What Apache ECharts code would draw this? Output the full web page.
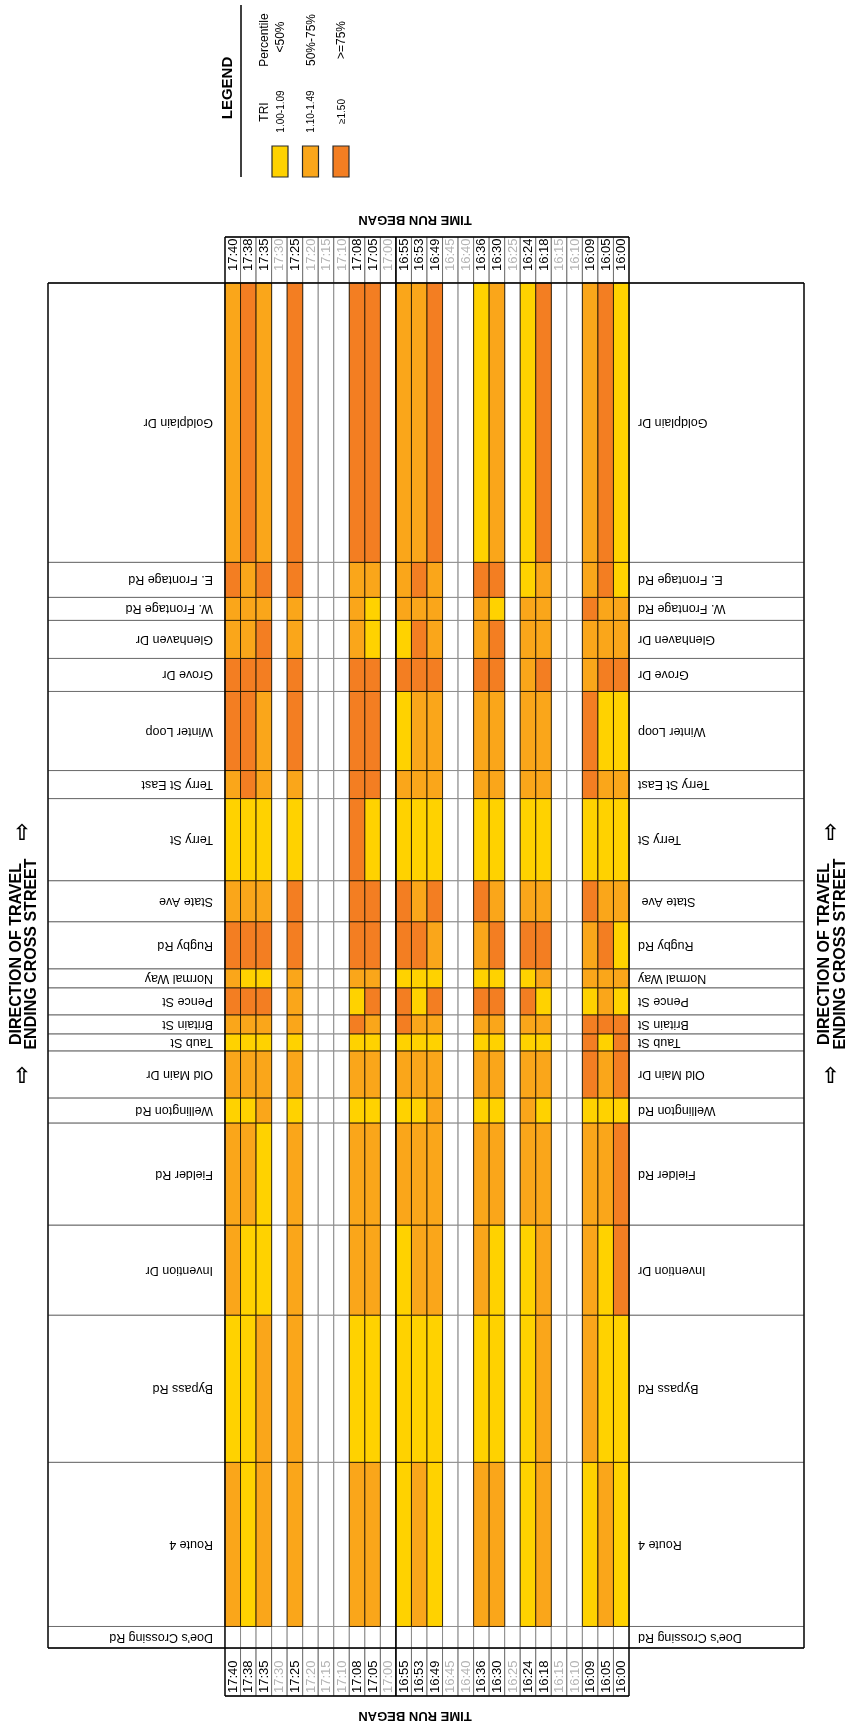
<!DOCTYPE html>
<html>
<head>
<meta charset="utf-8">
<script src="https://cdn.jsdelivr.net/npm/echarts@6/dist/echarts.min.js"></script>
<style>
  html, body { margin: 0; padding: 0; background: #fff; }
  #chart { width: 849px; height: 1725px; }
</style>
</head>
<body>
<div id="chart"></div>
<script>
// time each run began (left -> right), grey ones had no run
const times = ['17:40', '17:38', '17:35', '17:30', '17:25', '17:20', '17:15', '17:10', '17:08', '17:05', '17:00',
  '16:55', '16:53', '16:49', '16:45', '16:40', '16:36', '16:30', '16:25', '16:24', '16:18', '16:15', '16:10',
  '16:09', '16:05', '16:00'];
const runTimes = ['17:40', '17:38', '17:35', '17:25', '17:08', '17:05', '16:55', '16:53', '16:49',
  '16:36', '16:30', '16:24', '16:18', '16:09', '16:05', '16:00'];

// cross streets in direction of travel (bottom -> top)
const streets = ["Doe's Crossing Rd", 'Route 4', 'Bypass Rd', 'Invention Dr', 'Fielder Rd', 'Wellington Rd',
  'Old Main Dr', 'Taub St', 'Britain St', 'Pence St', 'Normal Way', 'Rugby Rd', 'State Ave ', 'Terry St',
  'Terry St East', 'Winter Loop', 'Grove Dr', 'Glenhaven Dr', 'W. Frontage Rd', 'E. Frontage Rd', 'Goldplain Dr'];
// segment length ending at each street (first one is the start point)
const segLen = [0, 1.64, 1.47, 0.90, 1.02, 0.25, 0.47, 0.17, 0.19, 0.27, 0.19, 0.47, 0.41, 0.82,
  0.28, 0.79, 0.33, 0.38, 0.23, 0.35, 2.79];

// TRI class per segment and run: 1 = 1.00-1.09, 2 = 1.10-1.49, 3 = >=1.50
const triLevel = [
  [2, 1, 2, 2, 2, 2, 1, 2, 1, 2, 2, 1, 2, 1, 2, 1], // Route 4
  [1, 1, 2, 2, 1, 1, 1, 1, 1, 1, 1, 1, 2, 2, 1, 1], // Bypass Rd
  [2, 1, 1, 2, 2, 2, 1, 2, 2, 2, 1, 1, 2, 2, 1, 3], // Invention Dr
  [2, 2, 1, 2, 2, 2, 2, 2, 2, 2, 2, 2, 2, 2, 2, 3], // Fielder Rd
  [1, 1, 2, 1, 1, 1, 1, 1, 2, 1, 1, 2, 1, 1, 1, 1], // Wellington Rd
  [2, 2, 2, 2, 2, 2, 2, 2, 2, 2, 2, 2, 2, 3, 2, 3], // Old Main Dr
  [1, 1, 1, 1, 1, 1, 1, 1, 1, 1, 1, 1, 1, 3, 1, 3], // Taub St
  [2, 2, 2, 2, 3, 2, 3, 2, 2, 2, 2, 2, 2, 3, 3, 3], // Britain St
  [3, 3, 3, 2, 1, 3, 3, 1, 3, 3, 3, 3, 1, 1, 2, 1], // Pence St
  [2, 1, 1, 2, 2, 2, 1, 1, 1, 1, 1, 1, 2, 2, 2, 2], // Normal Way
  [3, 3, 3, 3, 3, 3, 3, 3, 2, 2, 3, 3, 3, 2, 3, 1], // Rugby Rd
  [2, 2, 2, 3, 3, 3, 3, 2, 3, 3, 2, 2, 2, 3, 2, 2], // State Ave
  [1, 1, 1, 1, 3, 1, 1, 1, 1, 1, 1, 1, 1, 1, 1, 1], // Terry St
  [2, 3, 2, 2, 3, 3, 2, 2, 2, 2, 2, 2, 2, 3, 2, 2], // Terry St East
  [3, 3, 2, 3, 3, 3, 1, 2, 2, 2, 2, 2, 2, 3, 1, 1], // Winter Loop
  [3, 3, 3, 3, 3, 3, 3, 3, 3, 3, 3, 2, 3, 2, 3, 3], // Grove Dr
  [2, 2, 3, 2, 2, 1, 1, 3, 2, 2, 3, 2, 2, 2, 2, 2], // Glenhaven Dr
  [2, 2, 2, 2, 2, 1, 2, 2, 2, 2, 1, 2, 2, 3, 2, 2], // W. Frontage Rd
  [3, 2, 3, 3, 2, 2, 2, 3, 2, 3, 3, 1, 2, 2, 3, 1], // E. Frontage Rd
  [2, 3, 2, 3, 3, 3, 2, 2, 3, 1, 2, 1, 3, 2, 3, 1]  // Goldplain Dr
];

const triColors = ['#FFD200', '#FAA61A', '#F37E22'];
const legendTri = ['1.00-1.09', '1.10-1.49', '\u22651.50'];
const legendPct = ['<50%', '50%-75%', '>=75%'];

const FONT = "'Liberation Sans', Arial, sans-serif";
const DOE_ROW = 0.215; // room for the starting street row

// row extents on the value axis
const yBot = [], yTop = [];
let acc = 0;
streets.forEach(function (s, k) {
  if (k === 0) { yBot.push(-DOE_ROW); yTop.push(0); }
  else { yBot.push(acc); acc += segLen[k]; yTop.push(acc); }
});
const total = acc;

const whiteCells = [], colorCells = [];
streets.forEach(function (s, k) {
  times.forEach(function (t, i) {
    const r = runTimes.indexOf(t);
    const lv = (k > 0 && r >= 0) ? triLevel[k - 1][r] : 0;
    (lv ? colorCells : whiteCells).push([i, yBot[k], yTop[k], lv]);
  });
});

const chart = echarts.init(document.getElementById('chart'));

function renderCell(params, api) {
  const p0 = api.coord([api.value(0), api.value(2)]);
  const p1 = api.coord([api.value(0) + 1, api.value(1)]);
  const lv = api.value(3);
  return {
    type: 'rect',
    shape: { x: p0[0], y: p0[1], width: p1[0] - p0[0], height: p1[1] - p0[1] },
    style: {
      fill: lv ? triColors[lv - 1] : '#fff',
      stroke: lv ? 'rgba(30,20,0,0.85)' : '#8c8c8c',
      lineWidth: 1
    }
  };
}

function renderStreet(params, api) {
  const k = api.value(2);
  const p0 = api.coord([0, api.value(1)]);
  const p1 = api.coord([times.length, api.value(0)]);
  const cy = (p0[1] + p1[1]) / 2;
  const h = p1[1] - p0[1];
  const txt = { fontSize: 12.5, fontFamily: FONT, fill: '#000', verticalAlign: 'middle' };
  return {
    type: 'group',
    children: [
      { type: 'rect', shape: { x: 48, y: p0[1], width: p0[0] - 48, height: h },
        style: { fill: '#fff', stroke: '#6e6e6e', lineWidth: 1 } },
      { type: 'rect', shape: { x: p1[0], y: p0[1], width: 804 - p1[0], height: h },
        style: { fill: '#fff', stroke: '#6e6e6e', lineWidth: 1 } },
      { type: 'text', x: p0[0] - 12, y: cy, rotation: Math.PI,
        style: Object.assign({ text: streets[k], align: 'left' }, txt) },
      { type: 'text', x: p1[0] + 9, y: cy, rotation: Math.PI,
        style: Object.assign({ text: streets[k], align: 'right' }, txt) }
    ]
  };
}

function renderHeader(params, api) {
  const i = api.value(0);
  const t = times[i];
  const run = runTimes.indexOf(t) >= 0;
  const a = api.coord([i, total]);
  const b = api.coord([i + 1, -DOE_ROW]);
  const w = b[0] - a[0];
  const cx = (a[0] + b[0]) / 2;
  const txt = { text: t, fontSize: 13, fontFamily: FONT, fill: run ? '#000' : '#b4b4b4', verticalAlign: 'middle' };
  return {
    type: 'group',
    children: [
      { type: 'rect', shape: { x: a[0], y: a[1] - 46, width: w, height: 46 },
        style: { fill: '#fff', stroke: '#707070', lineWidth: 1 } },
      { type: 'rect', shape: { x: a[0], y: b[1], width: w, height: 48 },
        style: { fill: '#fff', stroke: '#707070', lineWidth: 1 } },
      { type: 'text', x: cx + 0.5, y: a[1] - 44.5, rotation: Math.PI / 2,
        style: Object.assign({ align: 'right' }, txt) },
      { type: 'text', x: cx + 0.5, y: b[1] + 45, rotation: Math.PI / 2,
        style: Object.assign({ align: 'left' }, txt) }
    ]
  };
}

function renderFrame(params, api) {
  const tl = api.coord([0, total]);
  const br = api.coord([times.length, -DOE_ROW]);
  const sep = api.coord([11, 0])[0];
  const top = tl[1] - 46, bot = br[1] + 48;
  const dark = { stroke: '#000', lineWidth: 1.3 };
  function line(x1, y1, x2, y2, st) {
    return { type: 'line', shape: { x1: x1, y1: y1, x2: x2, y2: y2 }, style: st || dark };
  }
  return {
    type: 'group',
    children: [
      line(tl[0], top, tl[0], bot),
      line(br[0], top, br[0], bot),
      line(sep, top, sep, bot, { stroke: '#000', lineWidth: 1.6 }),
      line(tl[0], top, br[0], top),
      line(tl[0], bot, br[0], bot),
      line(48, tl[1], 804, tl[1]),
      line(48, br[1], 804, br[1]),
      line(48, tl[1], 48, br[1]),
      line(804, tl[1], 804, br[1])
    ]
  };
}

const graphics = [
  { type: 'text', x: 415, y: 219.5, rotation: Math.PI,
    style: { text: 'TIME RUN BEGAN', fontSize: 13, fontWeight: 'bold', fontFamily: FONT, fill: '#000', align: 'center', verticalAlign: 'middle' } },
  { type: 'text', x: 415, y: 1716, rotation: Math.PI,
    style: { text: 'TIME RUN BEGAN', fontSize: 13, fontWeight: 'bold', fontFamily: FONT, fill: '#000', align: 'center', verticalAlign: 'middle' } },
  { type: 'text', x: 24, y: 954, rotation: Math.PI / 2,
    style: { text: 'DIRECTION OF TRAVEL\nENDING CROSS STREET', fontSize: 16, lineHeight: 15.5, fontWeight: 'bold', fontFamily: FONT, fill: '#000', align: 'center', verticalAlign: 'middle' } },
  { type: 'text', x: 832.5, y: 954, rotation: Math.PI / 2,
    style: { text: 'DIRECTION OF TRAVEL\nENDING CROSS STREET', fontSize: 16, lineHeight: 15.5, fontWeight: 'bold', fontFamily: FONT, fill: '#000', align: 'center', verticalAlign: 'middle' } },
  // legend
  { type: 'text', x: 228, y: 88, rotation: Math.PI / 2,
    style: { text: 'LEGEND', fontSize: 15, fontWeight: 'bold', fontFamily: FONT, fill: '#000', align: 'center', verticalAlign: 'middle' } },
  { type: 'line', shape: { x1: 241, y1: 5, x2: 241, y2: 177 }, style: { stroke: '#000', lineWidth: 1.5 } },
  { type: 'text', x: 265, y: 112, rotation: Math.PI / 2,
    style: { text: 'TRI', fontSize: 12, fontFamily: FONT, fill: '#000', align: 'center', verticalAlign: 'middle' } },
  { type: 'text', x: 265, y: 40, rotation: Math.PI / 2,
    style: { text: 'Percentile', fontSize: 12, fontFamily: FONT, fill: '#000', align: 'center', verticalAlign: 'middle' } }
];
[[22, 834], [22, 1077], [830.5, 834], [830.5, 1077]].forEach(function (p) {
  graphics.push({ type: 'text', x: p[0], y: p[1],
    style: { text: '\u21E7', fontSize: 22, fontWeight: 'bold', fontFamily: "'DejaVu Sans', sans-serif", fill: '#000', align: 'center', verticalAlign: 'middle' } });
});
const legX = [280, 310.5, 341];
legendTri.forEach(function (s, j) {
  graphics.push({ type: 'rect', shape: { x: legX[j] - 8, y: 146, width: 16, height: 31 },
    style: { fill: triColors[j], stroke: '#2a2a2a', lineWidth: 1.2 } });
  graphics.push({ type: 'text', x: legX[j] + 1, y: 111.5, rotation: Math.PI / 2,
    style: { text: s, fontSize: 10, fontFamily: FONT, fill: '#000', align: 'center', verticalAlign: 'middle' } });
  graphics.push({ type: 'text', x: legX[j] + 1, y: j === 0 ? 37 : 40, rotation: Math.PI / 2,
    style: { text: legendPct[j], fontSize: 12, fontFamily: FONT, fill: '#000', align: 'center', verticalAlign: 'middle' } });
});

chart.setOption({
  animation: false,
  grid: { left: 225, top: 283, width: 404, height: 1365 },
  xAxis: { type: 'value', min: 0, max: times.length, show: false },
  yAxis: { type: 'value', min: -DOE_ROW, max: total, show: false },
  series: [
    { type: 'custom', name: 'labels', renderItem: renderStreet,
      data: streets.map(function (s, k) { return [yBot[k], yTop[k], k]; }) },
    { type: 'custom', name: 'runs', renderItem: renderHeader,
      data: times.map(function (t, i) { return [i]; }) },
    { type: 'custom', name: 'TRI', renderItem: renderCell,
      data: whiteCells.concat(colorCells) },
    { type: 'custom', name: 'frame', renderItem: renderFrame, data: [[0]] }
  ],
  graphic: graphics
});
</script>
</body>
</html>
